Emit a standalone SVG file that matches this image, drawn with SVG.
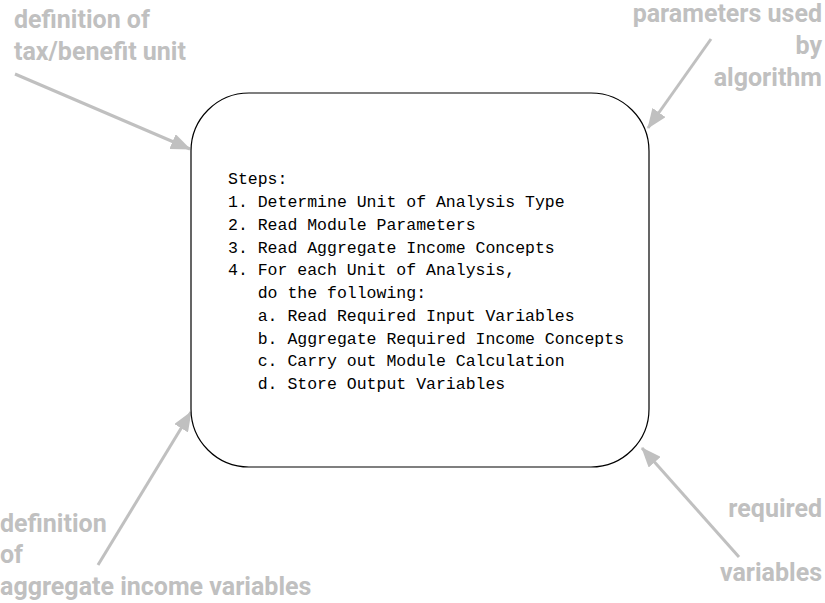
<svg xmlns="http://www.w3.org/2000/svg" width="825" height="603" viewBox="0 0 825 603">
<style>
.lbl{font-family:Roboto,"Liberation Sans",sans-serif;font-weight:bold;font-size:25px;fill:#c0c0c0}
.r{text-anchor:end}
.code{font-family:"Liberation Mono","Courier New",monospace;font-size:16.5px;fill:#000;white-space:pre}
.conn{stroke:#c0c0c0;stroke-width:3;fill:none;marker-end:url(#ah)}
</style>
<defs>
<marker id="ah" markerUnits="userSpaceOnUse" markerWidth="20" markerHeight="16" viewBox="0 0 20 16" refX="19" refY="8" orient="auto">
<path d="M0,0 L20,8 L0,16 Z" fill="#c0c0c0"/>
</marker>
</defs>
<rect width="825" height="603" fill="#fff"/>
<g id="connectors">
<line class="conn" x1="15" y1="74" x2="190" y2="149"/>
<line class="conn" x1="711" y1="39" x2="648" y2="128"/>
<line class="conn" x1="98" y1="565" x2="191" y2="412"/>
<line class="conn" x1="739" y1="557" x2="642" y2="448"/>
</g>
<g id="module">
<rect x="191" y="93" width="458" height="374" rx="58" ry="58" fill="#fff" stroke="#000" stroke-width="1.2"/>
<text class="code" x="228" y="184">Steps:</text>
<text class="code" x="228" y="207">1. Determine Unit of Analysis Type</text>
<text class="code" x="228" y="229.5">2. Read Module Parameters</text>
<text class="code" x="228" y="252.5">3. Read Aggregate Income Concepts</text>
<text class="code" x="228" y="275">4. For each Unit of Analysis,</text>
<text class="code" x="228" y="298">   do the following:</text>
<text class="code" x="228" y="320.5">   a. Read Required Input Variables</text>
<text class="code" x="228" y="343.5">   b. Aggregate Required Income Concepts</text>
<text class="code" x="228" y="366">   c. Carry out Module Calculation</text>
<text class="code" x="228" y="389">   d. Store Output Variables</text>
</g>
<g id="label-unit">
<text class="lbl" x="14" y="28">definition of</text>
<text class="lbl" x="14" y="60">tax/benefit unit</text>
</g>
<g id="label-params">
<text class="lbl r" x="822" y="22">parameters used</text>
<text class="lbl r" x="822" y="54">by</text>
<text class="lbl r" x="822" y="86">algorithm</text>
</g>
<g id="label-aggregate">
<text class="lbl" x="0" y="532">definition</text>
<text class="lbl" x="0" y="563">of</text>
<text class="lbl" x="0" y="595">aggregate income variables</text>
</g>
<g id="label-required">
<text class="lbl r" x="822" y="517">required</text>
<text class="lbl r" x="822" y="581">variables</text>
</g>
</svg>
